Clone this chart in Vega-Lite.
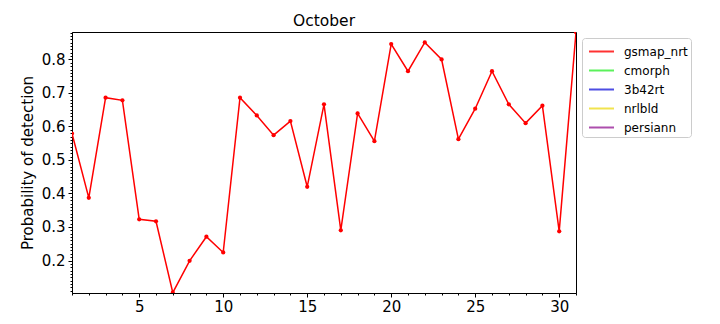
{
  "$schema": "https://vega.github.io/schema/vega-lite/v6.json",
  "autosize": {"type": "none"},
  "width": 504,
  "height": 261,
  "padding": {"left": 72, "top": 32, "right": 144, "bottom": 31},
  "background": "white",
  "config": {
    "font": "DejaVu Sans",
    "view": {"stroke": "black", "strokeWidth": 1}
  },
  "title": {"text": "October", "fontSize": 15.5, "fontWeight": "normal", "font": "DejaVu Sans", "color": "black", "offset": -4},
  "data": {
    "values": [
      {"day": 1, "pod": 0.579, "product": "gsmap_nrt"},
      {"day": 2, "pod": 0.387, "product": "gsmap_nrt"},
      {"day": 3, "pod": 0.686, "product": "gsmap_nrt"},
      {"day": 4, "pod": 0.678, "product": "gsmap_nrt"},
      {"day": 5, "pod": 0.323, "product": "gsmap_nrt"},
      {"day": 6, "pod": 0.317, "product": "gsmap_nrt"},
      {"day": 7, "pod": 0.104, "product": "gsmap_nrt"},
      {"day": 8, "pod": 0.199, "product": "gsmap_nrt"},
      {"day": 9, "pod": 0.271, "product": "gsmap_nrt"},
      {"day": 10, "pod": 0.224, "product": "gsmap_nrt"},
      {"day": 11, "pod": 0.686, "product": "gsmap_nrt"},
      {"day": 12, "pod": 0.633, "product": "gsmap_nrt"},
      {"day": 13, "pod": 0.574, "product": "gsmap_nrt"},
      {"day": 14, "pod": 0.616, "product": "gsmap_nrt"},
      {"day": 15, "pod": 0.420, "product": "gsmap_nrt"},
      {"day": 16, "pod": 0.666, "product": "gsmap_nrt"},
      {"day": 17, "pod": 0.290, "product": "gsmap_nrt"},
      {"day": 18, "pod": 0.639, "product": "gsmap_nrt"},
      {"day": 19, "pod": 0.556, "product": "gsmap_nrt"},
      {"day": 20, "pod": 0.846, "product": "gsmap_nrt"},
      {"day": 21, "pod": 0.765, "product": "gsmap_nrt"},
      {"day": 22, "pod": 0.851, "product": "gsmap_nrt"},
      {"day": 23, "pod": 0.800, "product": "gsmap_nrt"},
      {"day": 24, "pod": 0.562, "product": "gsmap_nrt"},
      {"day": 25, "pod": 0.653, "product": "gsmap_nrt"},
      {"day": 26, "pod": 0.765, "product": "gsmap_nrt"},
      {"day": 27, "pod": 0.666, "product": "gsmap_nrt"},
      {"day": 28, "pod": 0.610, "product": "gsmap_nrt"},
      {"day": 29, "pod": 0.662, "product": "gsmap_nrt"},
      {"day": 30, "pod": 0.287, "product": "gsmap_nrt"},
      {"day": 31, "pod": 0.881, "product": "gsmap_nrt"}
    ]
  },
  "mark": {"type": "line", "strokeWidth": 1.5, "clip": true, "point": {"filled": true, "size": 18}},
  "encoding": {
    "x": {
      "field": "day", "type": "quantitative",
      "scale": {"domain": [1, 31], "nice": false, "zero": false},
      "axis": {
        "title": null,
        "values": [1,2,3,4,5,6,7,8,9,10,11,12,13,14,15,16,17,18,19,20,21,22,23,24,25,26,27,28,29,30,31],
        "labelExpr": "datum.value % 5 === 0 ? format(datum.value, 'd') : ''",
        "tickSize": {"condition": {"test": "datum.value % 5 === 0", "value": 4}, "value": 2},
        "grid": false, "labelOverlap": false, "labelFlush": false,
        "labelFontSize": 15, "labelColor": "black", "labelPadding": 2,
        "domainColor": "black", "tickColor": "black", "tickWidth": 1
      }
    },
    "y": {
      "field": "pod", "type": "quantitative",
      "scale": {"domain": [0.103, 0.882], "nice": false, "zero": false},
      "axis": {
        "title": "Probability of detection",
        "titleFontSize": 15, "titleFontWeight": "normal", "titleColor": "black", "titlePadding": 6,
        "values": [0.11,0.12,0.13,0.14,0.15,0.16,0.17,0.18,0.19,0.2,0.21,0.22,0.23,0.24,0.25,0.26,0.27,0.28,0.29,0.3,0.31,0.32,0.33,0.34,0.35,0.36,0.37,0.38,0.39,0.4,0.41,0.42,0.43,0.44,0.45,0.46,0.47,0.48,0.49,0.5,0.51,0.52,0.53,0.54,0.55,0.56,0.57,0.58,0.59,0.6,0.61,0.62,0.63,0.64,0.65,0.66,0.67,0.68,0.69,0.7,0.71,0.72,0.73,0.74,0.75,0.76,0.77,0.78,0.79,0.8,0.81,0.82,0.83,0.84,0.85,0.86,0.87,0.88],
        "labelExpr": "abs(datum.value*10 - round(datum.value*10)) < 0.001 ? format(datum.value, '.1f') : ''",
        "tickSize": {"condition": {"test": "abs(datum.value*10 - round(datum.value*10)) < 0.001", "value": 4}, "value": 2},
        "grid": false, "labelOverlap": false, "labelFlush": false,
        "labelFontSize": 15, "labelColor": "black", "labelPadding": 3,
        "domainColor": "black", "tickColor": "black", "tickWidth": 1
      }
    },
    "color": {
      "field": "product", "type": "nominal",
      "scale": {
        "domain": ["gsmap_nrt", "cmorph", "3b42rt", "nrlbld", "persiann"],
        "range": ["#ff0000", "#33ee33", "#2222dd", "#eedd22", "#992299"]
      },
      "legend": {
        "title": null,
        "orient": "none",
        "legendX": 510,
        "legendY": 6,
        "symbolType": "M-0.684,0H1.947",
        "symbolSize": 361,
        "symbolStrokeWidth": 2,
        "symbolOpacity": 0.8,
        "labelFontSize": 12,
        "labelColor": "black",
        "rowPadding": 2,
        "padding": 3,
        "strokeColor": "#cccccc",
        "cornerRadius": 3,
        "fillColor": "white",
        "labelOffset": 18
      }
    }
  }
}
